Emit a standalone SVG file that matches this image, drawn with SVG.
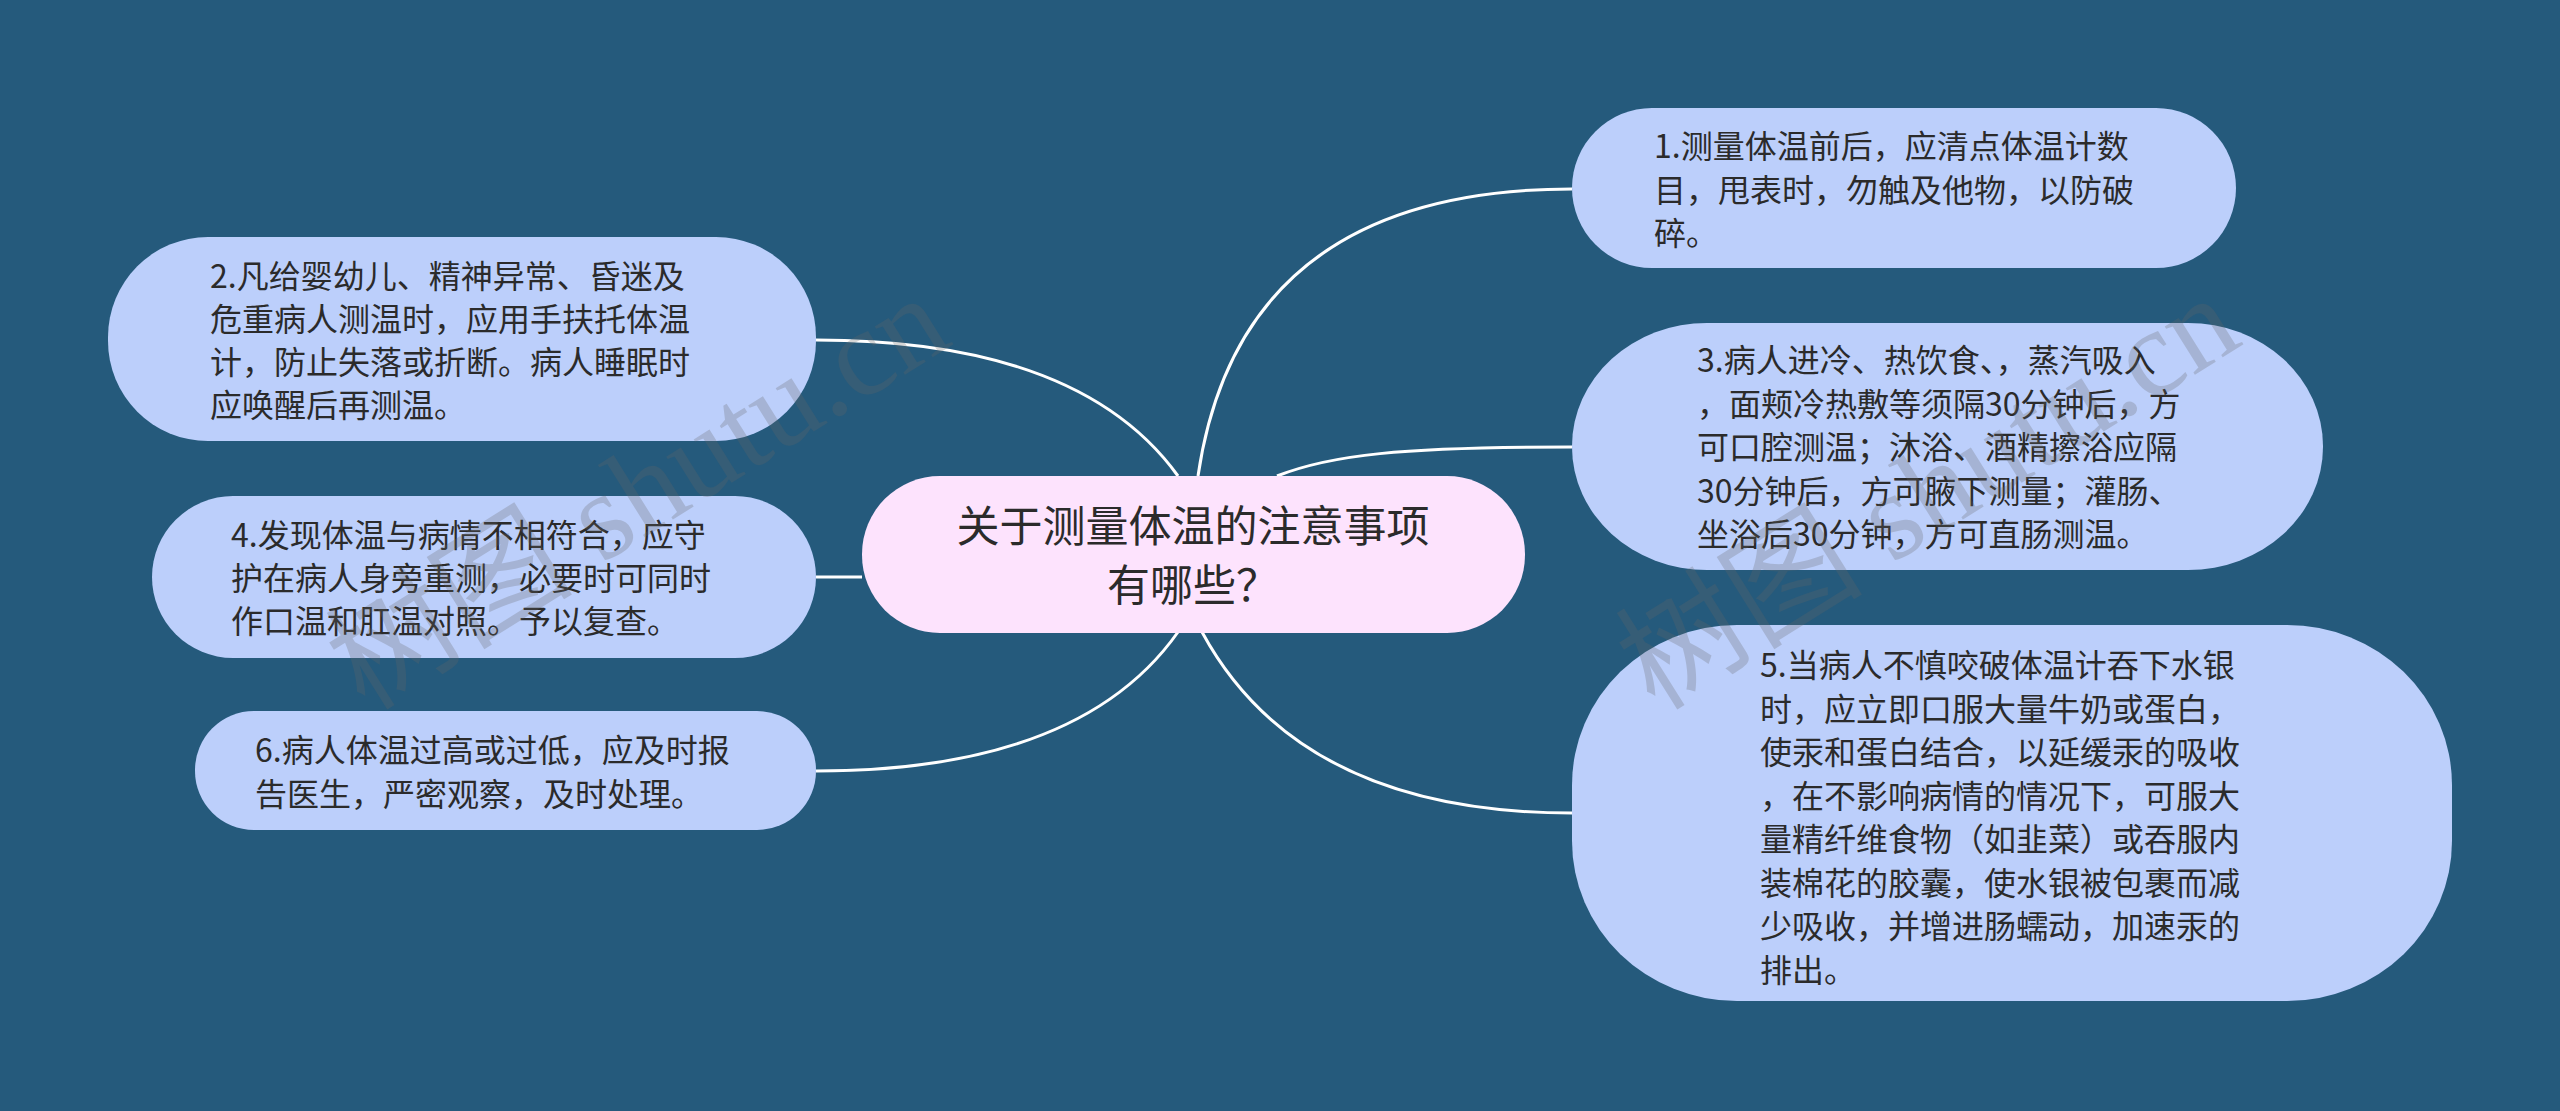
<svg xmlns="http://www.w3.org/2000/svg" width="2560" height="1111" viewBox="0 0 2560 1111">
<style>
.bg{fill:#255a7c}
.sub{fill:#bccffb}
.root{fill:#fde3fd}
.t{font-family:"Noto Sans CJK SC","Microsoft YaHei",sans-serif;font-size:32px;fill:#2b2b2b}
.rt{font-family:"Noto Sans CJK SC","Microsoft YaHei",sans-serif;font-size:43px;fill:#2b2b2b;text-anchor:middle}
.c{fill:none;stroke:#ffffff;stroke-width:3}
.wm{font-family:"Liberation Serif","Noto Sans CJK SC",serif;font-size:124px;fill:#666666;opacity:0.26}
</style>
<rect class="bg" x="0" y="0" width="2560" height="1111"/>
<g id="connectors">
<path class="c" d="M1198,476 Q1240,189 1572,189"/>
<path class="c" d="M1277,476 C1330,455 1400,447 1572,447"/>
<path class="c" d="M1202,632 Q1300,813 1572,813"/>
<path class="c" d="M1178,476 Q1080,340 816,340"/>
<path class="c" d="M862,577 L816,577"/>
<path class="c" d="M1178,632 Q1080,771 816,771"/>
</g>
<g id="root">
<rect class="root" x="862" y="476" width="663" height="157" rx="78" ry="78"/>
<text class="rt"><tspan x="1193" y="542">关于测量体温的注意事项</tspan><tspan x="1193" y="601">有哪些？</tspan></text>
</g>
<g id="n1">
<rect class="sub" x="1572" y="108" width="664" height="160" rx="80" ry="80"/>
<text class="t"><tspan x="1654" y="158">1.测量体温前后，应清点体温计数</tspan><tspan x="1654" y="201.5">目，甩表时，勿触及他物，以防破</tspan><tspan x="1654" y="245">碎。</tspan></text>
</g>
<g id="n3">
<rect class="sub" x="1572" y="323" width="751" height="247" rx="135" ry="123"/>
<text class="t"><tspan x="1697" y="372">3.病人进冷、热饮食、，蒸汽吸入</tspan><tspan x="1697" y="415.5">，面颊冷热敷等须隔30分钟后，方</tspan><tspan x="1697" y="459">可口腔测温；沐浴、酒精擦浴应隔</tspan><tspan x="1697" y="502.5">30分钟后，方可腋下测量；灌肠、</tspan><tspan x="1697" y="546">坐浴后30分钟，方可直肠测温。</tspan></text>
</g>
<g id="n5">
<rect class="sub" x="1572" y="625" width="880" height="376" rx="165" ry="160"/>
<text class="t"><tspan x="1760" y="677">5.当病人不慎咬破体温计吞下水银</tspan><tspan x="1760" y="720.5">时，应立即口服大量牛奶或蛋白，</tspan><tspan x="1760" y="764">使汞和蛋白结合，以延缓汞的吸收</tspan><tspan x="1760" y="807.5">，在不影响病情的情况下，可服大</tspan><tspan x="1760" y="851">量精纤维食物（如韭菜）或吞服内</tspan><tspan x="1760" y="894.5">装棉花的胶囊，使水银被包裹而减</tspan><tspan x="1760" y="938">少吸收，并增进肠蠕动，加速汞的</tspan><tspan x="1760" y="981.5">排出。</tspan></text>
</g>
<g id="n2">
<rect class="sub" x="108" y="237" width="708" height="204" rx="100" ry="100"/>
<text class="t"><tspan x="210" y="288">2.凡给婴幼儿、精神异常、昏迷及</tspan><tspan x="210" y="331">危重病人测温时，应用手扶托体温</tspan><tspan x="210" y="374">计，防止失落或折断。病人睡眠时</tspan><tspan x="210" y="417">应唤醒后再测温。</tspan></text>
</g>
<g id="n4">
<rect class="sub" x="152" y="496" width="664" height="162" rx="81" ry="81"/>
<text class="t"><tspan x="231" y="547">4.发现体温与病情不相符合，应守</tspan><tspan x="231" y="590">护在病人身旁重测，必要时可同时</tspan><tspan x="231" y="633">作口温和肛温对照。予以复查。</tspan></text>
</g>
<g id="n6">
<rect class="sub" x="195" y="711" width="621" height="119" rx="59" ry="59"/>
<text class="t"><tspan x="255" y="762">6.病人体温过高或过低，应及时报</tspan><tspan x="255" y="805.5">告医生，严密观察，及时处理。</tspan></text>
</g>
<g id="watermark">
<text class="wm" transform="translate(365,712) rotate(-32)">树图 shutu.cn</text>
<text class="wm" transform="translate(1655,712) rotate(-32)">树图 shutu.cn</text>
</g>
</svg>
